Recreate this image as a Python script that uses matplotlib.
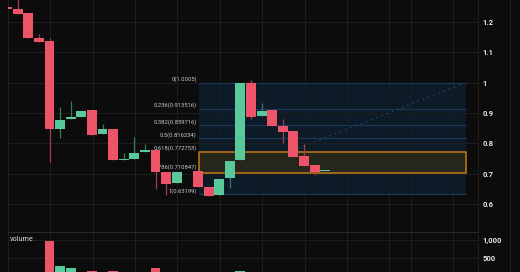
import numpy as np
import matplotlib
matplotlib.use('agg')
import matplotlib.pyplot as plt
from matplotlib.patches import Rectangle
from matplotlib.lines import Line2D
from matplotlib.ticker import FixedLocator, FuncFormatter

# candles (index 17 has no trade)
opens = [1.251, 1.243, 1.230, 1.149, 1.139, 0.847, 0.880, 0.888, 0.909, 0.830,
         0.847, 0.745, 0.748, 0.770, 0.778, 0.706, 0.670, np.nan, 0.709, 0.657,
         0.629, 0.685, 0.745, 0.998, 0.890, 0.910, 0.858, 0.842, 0.758, 0.728, 0.7075]
highs = [1.251, 1.300, 1.230, 1.160, 1.149, 0.921, 0.940, 0.907, 0.909, 0.864,
         0.847, 0.769, 0.820, 0.799, 0.778, 0.706, 0.706, np.nan, 0.709, 0.657,
         0.682, 0.742, 0.998, 1.009, 0.932, 0.910, 0.879, 0.842, 0.798, 0.728, 0.7105]
lows = [1.242, 1.227, 1.147, 1.135, 0.739, 0.819, 0.880, 0.888, 0.826, 0.830,
        0.745, 0.745, 0.748, 0.770, 0.650, 0.629, 0.670, np.nan, 0.657, 0.626,
        0.629, 0.652, 0.745, 0.880, 0.890, 0.858, 0.800, 0.756, 0.726, 0.695, 0.7075]
closes = [1.242, 1.227, 1.147, 1.135, 0.846, 0.877, 0.888, 0.907, 0.826, 0.846,
          0.745, 0.748, 0.767, 0.778, 0.706, 0.666, 0.706, np.nan, 0.657, 0.626,
          0.682, 0.742, 0.998, 0.888, 0.908, 0.858, 0.838, 0.756, 0.726, 0.706, 0.7105]
volumes = [40, 50, 45, 55, 971, 257, 209, 60, 123, 50,
           123, 45, 55, 40, 191, 70, 60, np.nan, 65, 50,
           55, 60, 123, 70, 40, 50, 40, 45, 35, 30, 20]

# fibonacci retracement
fib_ratios = ['0', '0.236', '0.382', '0.5', '0.618', '0.786', '1']
fib_prices = ['1.0005', '0.913516', '0.859716', '0.816234', '0.772753', '0.710847', '0.63199']
fib_start, fib_end = 18.13, 43.26
zone_low, zone_high = 0.701, 0.7705
trend_x = [27.5, 42.9]
trend_y = [0.784, 0.995]

price_ticks = [0.6, 0.7, 0.8, 0.9, 1.0, 1.1, 1.2]
vol_ticks = [500, 1000]
grid_x = [4, 8, 12, 16, 20, 24, 28, 32, 36, 38, 42]

bg = '#0c0c0c'
grid_c = '#1d1d1d'
up_c, down_c = '#58c99b', '#ee5468'
up_wick, down_wick = '#2f7d5c', '#a63c4c'
txt_c = '#e6e6e6'
plt.rcParams['font.family'] = ['Roboto', 'DejaVu Sans']

fig = plt.figure(figsize=(5.2, 2.72), dpi=100, facecolor=bg)
ax = fig.add_axes([8 / 520, 40 / 272, 470 / 520, 232 / 272])
axv = fig.add_axes([8 / 520, 0, 470 / 520, 39.7 / 272])

for a in (ax, axv):
    a.set_facecolor(bg)
    a.set_xlim(0.085, 44.42)
    a.xaxis.set_major_locator(FixedLocator([g + 0.06 for g in grid_x]))
    a.tick_params(axis='x', length=0, labelbottom=False)
    a.yaxis.tick_right()
    a.tick_params(axis='y', length=0, pad=3.3, labelsize=5.5, labelcolor=txt_c)
    a.grid(True, color=grid_c, linewidth=0.8)
    a.set_axisbelow(True)
    for s in a.spines.values():
        s.set_color(grid_c)
    for lbl in a.get_yticklabels():
        lbl.set_fontweight('bold')

ax.set_ylim(0.5073, 1.2729)
ax.yaxis.set_major_locator(FixedLocator(price_ticks))
ax.yaxis.set_major_formatter(FuncFormatter(lambda v, p: f'{v:g}'))
ax.spines['bottom'].set_visible(False)
ax.spines['top'].set_visible(False)

axv.set_ylim(86, 1220)
axv.yaxis.set_major_locator(FixedLocator(vol_ticks))
axv.yaxis.set_major_formatter(FuncFormatter(lambda v, p: f'{int(v):,}'))
axv.spines['top'].set_color('#2a2a2a')
axv.spines['bottom'].set_visible(False)
for a in (ax, axv):
    for lbl in a.get_yticklabels():
        lbl.set_fontweight('bold')

# fib box and levels
fp = [float(v) for v in fib_prices]
ax.add_patch(Rectangle((fib_start, fp[-1]), fib_end - fib_start, fp[0] - fp[-1],
                       facecolor='#0d1a28', edgecolor='none', zorder=0.3))
for r, v, f in zip(fib_ratios, fib_prices, fp):
    ax.hlines(f, fib_start, fib_end, color='#1b3858', linewidth=0.9, zorder=0.6)
    ax.annotate(f'{r}({v})', (17.9, f), xytext=(0, 2.4), textcoords='offset points',
                ha='right', va='center', fontsize=4.2, color='#c8c8c8')
ax.plot(trend_x, trend_y, color='#1f4b72', linewidth=1, linestyle=(0, (1, 3)), zorder=0.7)
ax.add_patch(Rectangle((fib_start, zone_low), fib_end - fib_start, zone_high - zone_low,
                       facecolor='#27261b', edgecolor='#c27a18', linewidth=1.1, zorder=1))

# candles
x = np.arange(len(opens))
o, h, l, c = map(np.array, (opens, highs, lows, closes))
ok = ~np.isnan(o)
up = ok & (c >= o)
dn = ok & (c < o)
for m, bc, wc in ((up, up_c, up_wick), (dn, down_c, down_wick)):
    ax.vlines(x[m], l[m], h[m], color=wc, linewidth=0.9, zorder=2)
    body = np.maximum(np.abs(c[m] - o[m]), 0.003)
    ax.bar(x[m], body, bottom=np.minimum(o[m], c[m]), width=0.94, color=bc, zorder=3)
    axv.bar(x[m], np.array(volumes)[m], width=0.94, color=bc, zorder=3)

axv.text(0.004, 0.82, 'volume', transform=axv.transAxes, fontsize=5.2, color='#d8d8d8',
         ha='left', va='center')

fig.add_artist(Line2D([510 / 520, 510 / 520], [0, 1], color=grid_c, linewidth=0.8))

fig.savefig('out.png', dpi=100, facecolor=bg)
